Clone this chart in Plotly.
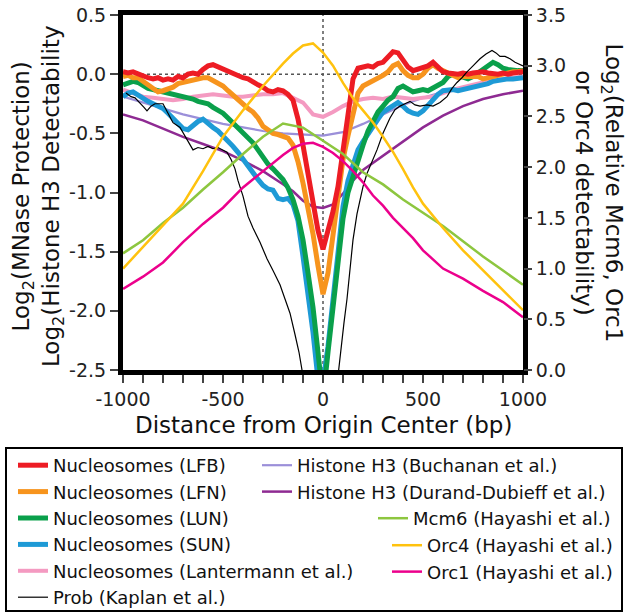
import plotly.graph_objects as go

# ---------------- data ----------------
X25 = list(range(-1000, 1001, 25))

LFB = [0.02, 0.01, 0.02, 0.00, -0.02, -0.03, -0.04, -0.03, -0.05, -0.04, -0.05, -0.02, -0.03, 0.00, 0.01, 0.00,
       0.04, 0.07, 0.08, 0.06, 0.04, 0.02, 0.01, -0.01, -0.03, -0.04, -0.07, -0.09, -0.11, -0.14, -0.15, -0.13,
       -0.14, -0.17, -0.22, -0.38, -0.60, -0.86, -1.10, -1.32, -1.48, -1.33, -1.16, -0.95, -0.64, -0.32, -0.04,
       0.05, 0.06, 0.07, 0.06, 0.09, 0.10, 0.14, 0.19, 0.18, 0.12, 0.06, 0.03, 0.04, 0.05, 0.07, 0.10, 0.06,
       0.02, 0.01, 0.00, 0.00, 0.01, 0.00, 0.01, 0.02, 0.02, 0.01, 0.00, 0.00, 0.01, 0.00, 0.01, 0.02, 0.02]

LFN = [-0.02, -0.01, -0.03, -0.03, -0.06, -0.09, -0.12, -0.15, -0.14, -0.13, -0.11, -0.08, -0.07, -0.05, -0.04,
       -0.03, -0.03, -0.03, -0.05, -0.08, -0.10, -0.14, -0.18, -0.21, -0.25, -0.29, -0.32, -0.37, -0.44, -0.47,
       -0.50, -0.51, -0.52, -0.54, -0.60, -0.74, -0.92, -1.12, -1.35, -1.62, -1.86, -1.68, -1.38, -1.05, -0.72,
       -0.52, -0.32, -0.16, -0.10, -0.08, -0.05, -0.04, -0.01, 0.02, 0.07, 0.09, 0.03, -0.01, -0.03, -0.03, 0.00,
       0.05, 0.08, 0.05, 0.03, 0.00, -0.02, -0.03, -0.02, -0.02, -0.03, -0.02, -0.04, -0.03, -0.01, 0.00, 0.00,
       0.01, 0.02, 0.02, 0.03]

LUN = [-0.09, -0.07, -0.06, -0.07, -0.10, -0.12, -0.13, -0.14, -0.15, -0.15, -0.16, -0.18, -0.19, -0.19, -0.21,
       -0.23, -0.24, -0.25, -0.28, -0.30, -0.33, -0.37, -0.41, -0.45, -0.49, -0.54, -0.58, -0.64, -0.71, -0.76,
       -0.80, -0.85, -0.89, -0.96, -1.06, -1.20, -1.40, -1.68, -1.97, -2.35, -2.75, -2.35, -1.97, -1.58, -1.22,
       -1.00, -0.86, -0.74, -0.60, -0.48, -0.40, -0.32, -0.27, -0.22, -0.19, -0.12, -0.10, -0.13, -0.15, -0.14,
       -0.13, -0.14, -0.12, -0.10, -0.07, -0.02, 0.00, -0.01, -0.03, -0.04, -0.02, 0.01, 0.04, 0.07, 0.10, 0.08,
       0.05, 0.04, 0.03, 0.03, 0.03]

SUN = [-0.19, -0.16, -0.15, -0.18, -0.21, -0.23, -0.25, -0.27, -0.29, -0.33, -0.37, -0.42, -0.46, -0.47, -0.43,
       -0.40, -0.38, -0.42, -0.45, -0.48, -0.52, -0.56, -0.61, -0.66, -0.72, -0.78, -0.84, -0.89, -0.94, -0.97,
       -0.98, -1.05, -1.06, -1.05, -1.10, -1.24, -1.54, -1.83, -2.18, -2.58, -2.60, -2.30, -1.88, -1.48, -1.12,
       -0.90, -0.77, -0.64, -0.57, -0.50, -0.44, -0.38, -0.32, -0.29, -0.26, -0.24, -0.27, -0.31, -0.33, -0.34,
       -0.31, -0.26, -0.22, -0.17, -0.14, -0.13, -0.13, -0.14, -0.13, -0.13, -0.12, -0.11, -0.10, -0.08, -0.06,
       -0.05, -0.05, -0.04, -0.04, -0.03, -0.03]

X50 = list(range(-1000, 1001, 50))
LANTERMANN = [-0.13, -0.16, -0.19, -0.20, -0.21, -0.22, -0.21, -0.19, -0.18, -0.17, -0.18, -0.19, -0.19, -0.18,
              -0.17, -0.17, -0.16, -0.20, -0.24, -0.34, -0.36, -0.32, -0.27, -0.23, -0.21, -0.20, -0.21, -0.19,
              -0.20, -0.21, -0.20, -0.19, -0.16, -0.13, -0.11, -0.09, -0.07, -0.05, -0.04, -0.03, -0.02]

X100 = list(range(-1000, 1001, 100))
BUCHANAN = [-0.19, -0.24, -0.29, -0.34, -0.38, -0.42, -0.45, -0.48, -0.50, -0.51, -0.52, -0.49, -0.42, -0.34,
            -0.26, -0.20, -0.15, -0.11, -0.07, -0.04, -0.02]

X_DURAND = [-1000, -900, -800, -700, -600, -500, -400, -300, -200, -150, -100, -50, 0, 50, 100, 150, 200,
            300, 400, 500, 600, 700, 800, 900, 1000]
DURAND = [-0.34, -0.39, -0.46, -0.53, -0.59, -0.65, -0.73, -0.82, -0.93, -0.99, -1.07, -1.12, -1.13, -1.10,
          -1.01, -0.90, -0.81, -0.69, -0.57, -0.45, -0.35, -0.27, -0.21, -0.17, -0.14]

X_PROB = [-985, -960, -940, -915, -895, -880, -860, -840, -800, -775, -750, -715, -690, -665, -650, -625, -600,
          -575, -550, -525, -500, -480, -460, -440, -425, -400, -375, -350, -315, -280, -250, -215, -190, -165,
          -140, -120, -100, -80, 0, 60, 75, 90, 105, 120, 135, 150, 170, 185, 200, 220, 245, 270, 300, 335, 360,
          385, 410, 435, 460, 485, 520, 550, 585, 620, 645, 670, 695, 720, 750, 785, 815, 845, 865, 885, 910,
          935, 960, 985, 1000]
PROB = [-0.16, -0.19, -0.20, -0.24, -0.28, -0.31, -0.27, -0.25, -0.25, -0.33, -0.41, -0.45, -0.52, -0.60, -0.64,
        -0.62, -0.63, -0.61, -0.63, -0.62, -0.64, -0.66, -0.72, -0.80, -0.90, -1.03, -1.20, -1.30, -1.42, -1.56,
        -1.66, -1.78, -1.90, -2.02, -2.20, -2.35, -2.55, -2.90, -3.20, -2.90, -2.55, -2.30, -2.10, -1.90, -1.62,
        -1.40, -1.18, -1.05, -0.95, -0.84, -0.74, -0.64, -0.50, -0.37, -0.30, -0.27, -0.25, -0.23, -0.26, -0.27,
        -0.26, -0.27, -0.24, -0.19, -0.12, -0.07, -0.03, 0.02, 0.07, 0.13, 0.17, 0.20, 0.18, 0.15, 0.15, 0.13,
        0.10, 0.08, 0.07]

MCM6 = [1.15, 1.28, 1.45, 1.60, 1.78, 1.95, 2.13, 2.30, 2.43, 2.39, 2.26, 2.13, 1.95, 1.83, 1.68, 1.55, 1.42,
        1.27, 1.12, 0.98, 0.84]
X_ORC = [-1000, -900, -800, -700, -600, -500, -400, -300, -200, -150, -100, -50, 0, 50, 100, 150, 200, 250,
         300, 350, 400, 450, 500, 600, 700, 800, 900, 1000]
ORC4 = [1.00, 1.21, 1.42, 1.64, 1.96, 2.30, 2.56, 2.80, 3.02, 3.12, 3.20, 3.22, 3.13, 3.00, 2.83, 2.68, 2.56,
        2.44, 2.30, 2.15, 1.98, 1.80, 1.64, 1.40, 1.18, 0.98, 0.79, 0.59]
ORC1 = [0.80, 0.92, 1.06, 1.26, 1.44, 1.60, 1.80, 1.96, 2.12, 2.19, 2.23, 2.24, 2.20, 2.14, 2.06, 1.96, 1.85,
        1.72, 1.62, 1.50, 1.40, 1.30, 1.18, 1.00, 0.90, 0.78, 0.67, 0.52]

X_TICKS = [-1000, -500, 0, 500, 1000]
X_TICKTEXT = ["-1000", "-500", "0", "500", "1000"]
YL_TICKS = [-2.5, -2.0, -1.5, -1.0, -0.5, 0.0, 0.5]
YL_TICKTEXT = ["-2.5", "-2.0", "-1.5", "-1.0", "-0.5", "0.0", "0.5"]
YR_TICKS = [0.0, 0.5, 1.0, 1.5, 2.0, 2.5, 3.0, 3.5]
YR_TICKTEXT = ["0.0", "0.5", "1.0", "1.5", "2.0", "2.5", "3.0", "3.5"]

FONT = "DejaVu Sans, Liberation Sans, Arial, sans-serif"

# (name, x, y, axis, color, width, legend, rank)
SERIES = [
    ("Mcm6 (Hayashi et al.)", X100, MCM6, "y2", "#8dc63f", 2.5, "legend3", 1),
    ("Orc4 (Hayashi et al.)", X_ORC, ORC4, "y2", "#ffc20e", 2.5, "legend4", 1),
    ("Orc1 (Hayashi et al.)", X_ORC, ORC1, "y2", "#ec008c", 2.5, "legend4", 2),
    ("Histone H3 (Buchanan et al.)", X100, BUCHANAN, "y", "#9b8fd9", 2.2, "legend2", 1),
    ("Histone H3 (Durand-Dubieff et al.)", X_DURAND, DURAND, "y", "#8e2a92", 2.5, "legend2", 2),
    ("Nucleosomes (Lantermann et al.)", X50, LANTERMANN, "y", "#f49ac1", 4, "legend", 5),
    ("Nucleosomes (SUN)", X25, SUN, "y", "#1e9ad6", 5, "legend", 4),
    ("Nucleosomes (LUN)", X25, LUN, "y", "#0aa04b", 5, "legend", 3),
    ("Nucleosomes (LFN)", X25, LFN, "y", "#f7941d", 5, "legend", 2),
    ("Nucleosomes (LFB)", X25, LFB, "y", "#ed1c24", 5, "legend", 1),
    ("Prob (Kaplan et al.)", X_PROB, PROB, "y", "#000000", 1.2, "legend", 6),
]

fig = go.Figure()
for name, xs, ys, ax, col, w, leg, rank in SERIES:
    fig.add_trace(go.Scatter(x=xs, y=ys, yaxis=ax, name=name, mode="lines",
                             line=dict(color=col, width=w), legend=leg, legendrank=rank))

axis_common = dict(showgrid=False, zeroline=False, ticks="outside", ticklen=8, tickwidth=1.5,
                   tickcolor="#444", automargin=False,
                   tickfont=dict(size=19, color="#222", family=FONT))

legend_common = dict(xanchor="left", yanchor="top", bgcolor="rgba(0,0,0,0)",
                     font=dict(size=18, color="#111", family=FONT), tracegroupgap=0,
                     itemwidth=30, orientation="v", itemclick=False)

fig.update_layout(
    width=629, height=613,
    margin=dict(l=123, r=106, t=15, b=243, autoexpand=False),
    paper_bgcolor="white", plot_bgcolor="white",
    font=dict(family=FONT, color="#222"),
    showlegend=True,
    xaxis=dict(range=[-1000, 1000], tickvals=X_TICKS, ticktext=X_TICKTEXT,
               showline=True, linewidth=5, linecolor="black", mirror=True,
               minor=dict(ticks="outside", dtick=100, ticklen=8, tickwidth=1.5, tickcolor="#444"),
               **axis_common),
    yaxis=dict(range=[-2.5, 0.5], tickvals=YL_TICKS, ticktext=YL_TICKTEXT,
               showline=True, linewidth=5, linecolor="black", mirror=True, **axis_common),
    yaxis2=dict(range=[0, 3.5], tickvals=YR_TICKS, ticktext=YR_TICKTEXT, overlaying="y",
                side="right", showline=False, **axis_common),
    legend=dict(x=-0.275, y=-0.2169, **legend_common),
    legend2=dict(x=0.335, y=-0.2169, **legend_common),
    legend3=dict(x=0.625, y=-0.3662, **legend_common),
    legend4=dict(x=0.66, y=-0.4423, **legend_common),
)

# reference lines at zero
fig.add_shape(type="line", xref="x", yref="y domain", x0=0, x1=0, y0=0, y1=1,
              line=dict(color="#555", width=1.5, dash="dot"), layer="below")
fig.add_shape(type="line", xref="x domain", yref="y", x0=0, x1=1, y0=0, y1=0,
              line=dict(color="#555", width=1.5, dash="dot"), layer="below")
# legend frame
fig.add_shape(type="rect", xref="paper", yref="paper", x0=-0.2925, x1=1.2475, y0=-0.679, y1=-0.22,
              line=dict(color="black", width=2), fillcolor="rgba(0,0,0,0)")

fig.add_annotation(text="Distance from Origin Center (bp)", xref="paper", yref="paper", x=0.5, y=-0.155,
                   xanchor="center", yanchor="middle", showarrow=False,
                   font=dict(size=23, color="#111", family=FONT))
fig.add_annotation(text="Log<sub>2</sub>(MNase Protection)<br>Log<sub>2</sub>(Histone H3 Detectability",
                   xref="paper", yref="paper", x=-0.2125, y=0.49, textangle=-90,
                   xanchor="center", yanchor="middle", showarrow=False,
                   font=dict(size=23, color="#111", family=FONT))
fig.add_annotation(text="Log<sub>2</sub>(Relative Mcm6, Orc1<br>or Orc4 detectability)",
                   xref="paper", yref="paper", x=1.19, y=0.5, textangle=90,
                   xanchor="center", yanchor="middle", showarrow=False,
                   font=dict(size=23, color="#111", family=FONT))

fig.write_html("out.html", post_script="document.body.style.margin='0';",
               config={"displayModeBar": False})
